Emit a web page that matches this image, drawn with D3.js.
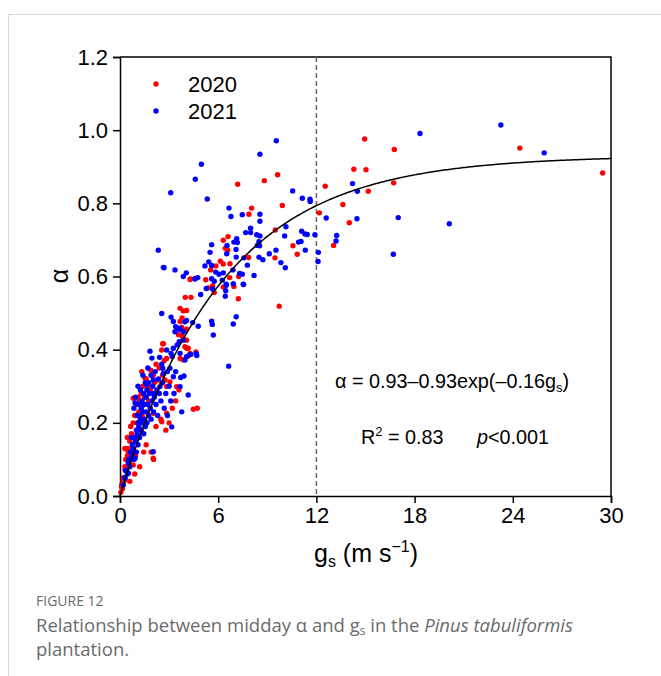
<!DOCTYPE html>
<html>
<head>
<meta charset="utf-8">
<style>
  body { margin: 0; background: #fff; }
</style>
</head>
<body>
<div id="viz"></div>
<script src="https://d3js.org/d3.v7.min.js"></script>
<script>
  // [gs, alpha]
  const red2020 = [
    [24.43,0.951],[29.49,0.883],[14.95,0.976],[16.76,0.947],[14.29,0.893],[15.03,0.892],[15.17,0.833],
    [16.72,0.856],[12.54,0.847],[13.62,0.797],[12.18,0.774],[14.01,0.747],[13.05,0.685],
    [7.19,0.852],[8.82,0.862],[9.63,0.878],[9.92,0.794],[8.04,0.787],[7.88,0.770],[9.49,0.727],
    [10.57,0.684],[10.83,0.661],[6.6,0.709],[6.31,0.699],[6.43,0.677],[6.58,0.672],[9.47,0.651],
    [7.86,0.652],[4.3,0.593],[5.54,0.618],[5.86,0.629],[6.13,0.642],[6.31,0.634],[6.72,0.635],
    [6.7,0.597],[7.25,0.6],[5.24,0.591],[5.66,0.574],[6.31,0.571],[6.96,0.573],[3.99,0.543],
    [4.34,0.543],[7.23,0.539],[5.39,0.569],[5.76,0.556],[9.73,0.519],
    [4.28,0.592],[4.58,0.595],[3.67,0.513],[3.87,0.506],[4.07,0.507],[3.79,0.487],[3.67,0.477],
    [3.77,0.461],[4.07,0.456],[4.64,0.394],[4.17,0.383],[2.55,0.399],[2.61,0.416],[3.91,0.428],
    [4.07,0.404],[3.97,0.408],[3.58,0.441],[3.8,0.437],[4.07,0.426],[4.17,0.404],
    [2.65,0.416],[2.85,0.376],[3.67,0.376],[3.87,0.372],[4.28,0.39],
    [1.33,0.34],[1.53,0.322],[1.88,0.344],[2.03,0.331],[2.28,0.317],[2.55,0.308],[2.85,0.299],
    [2.75,0.317],[3.05,0.312],[3.46,0.299],[4.48,0.237],[4.72,0.24],
    [0.81,0.267],[1.42,0.249],[2.03,0.226],[2.55,0.203],[2.85,0.226],[2.03,0.103],[0.51,0.121],
    [0.81,0.085],[0.31,0.071],[0.2,0.044],[0.1,0.025],
    [0.05,0.01],[0.1,0.03],[0.15,0.02],[0.2,0.05],[0.25,0.04],[0.3,0.08],[0.4,0.07],[0.45,0.11],
    [0.5,0.13],[0.55,0.09],[0.6,0.15],[0.7,0.17],[0.75,0.12],[0.8,0.2],[0.85,0.16],[0.9,0.22],
    [1.0,0.25],[1.05,0.2],[1.1,0.27],[1.2,0.26],[1.3,0.28],[1.4,0.3],[1.5,0.27],[1.6,0.32],
    [1.7,0.3],[1.85,0.29],[2.0,0.33],[2.1,0.31],[2.2,0.36],[2.4,0.35],[2.6,0.33],[2.7,0.37],
    [2.2,0.19],[2.5,0.21],[2.8,0.18],[3.0,0.2],[3.2,0.24],[1.9,0.12],[1.6,0.14],[1.2,0.08],
    [0.9,0.06],[0.6,0.04],[2.05,0.1],[3.4,0.26],[3.6,0.29],[0.45,0.16],[0.3,0.13],
    [0.35,0.1],[0.65,0.19],[1.15,0.23],[1.35,0.22],[1.75,0.26],[0.95,0.11],[1.45,0.12]
  ];

  const blue2021 = [
    [23.27,1.014],[25.92,0.938],[18.33,0.991],[14.21,0.854],[14.5,0.833],[12.6,0.76],[14.48,0.758],
    [17.0,0.761],[20.12,0.744],[13.24,0.712],[13.2,0.697],[12.12,0.666],[12.1,0.641],[16.7,0.661],
    [11.91,0.714],[11.14,0.814],[11.61,0.811],[11.62,0.805],[11.1,0.724],[11.3,0.716],[11.44,0.715],
    [11.06,0.696],[11.32,0.672],
    [9.55,0.971],[8.55,0.934],[4.97,0.907],[4.6,0.866],[10.55,0.834],[5.33,0.812],[3.1,0.829],
    [6.66,0.787],[7.47,0.769],[8.55,0.77],[6.78,0.764],[8.55,0.751],[7.98,0.732],[7.98,0.72],
    [7.68,0.72],[8.35,0.714],[8.55,0.711],[10.14,0.736],[10.06,0.711],[10.91,0.694],[8.49,0.695],
    [8.39,0.685],[8.53,0.684],[9.53,0.672],[9.12,0.662],[9.83,0.638],[10.1,0.624],[8.49,0.653],
    [8.73,0.646],[7.13,0.703],[6.96,0.694],[7.17,0.693],[5.6,0.687],[6.54,0.685],[7.09,0.674],
    [5.5,0.666],[6.52,0.662],[7.1,0.653],[7.57,0.651],[7.78,0.631],[2.69,0.624],[3.36,0.618],
    [3.87,0.6],[4.05,0.61],[4.58,0.593],[4.75,0.597],[5.19,0.629],[5.42,0.64],[5.6,0.63],
    [6.05,0.606],[5.85,0.612],[6.31,0.61],[6.9,0.618],[7.31,0.608],[7.47,0.606],[5.6,0.594],
    [5.76,0.587],[6.25,0.59],[6.49,0.576],[6.92,0.58],[7.53,0.579],[8.19,0.603],[5.27,0.567],
    [5.66,0.566],[6.49,0.579],[6.46,0.561],[7.55,0.578],[4.93,0.551],[6.43,0.546],
    [2.34,0.672],[2.65,0.625],[2.55,0.499],[3.12,0.489],[4.07,0.48],[3.46,0.461],[3.36,0.449],
    [3.67,0.458],[3.87,0.449],[4.78,0.464],[5.6,0.478],[5.64,0.469],[7.1,0.49],[6.92,0.47],
    [6.64,0.355],[5.7,0.44],[4.66,0.389],[4.32,0.387],[3.5,0.413],[1.83,0.396],[1.95,0.377],
    [2.42,0.379],[2.85,0.399],[3.26,0.404],[3.12,0.39],[3.26,0.477],[3.4,0.463],[3.97,0.476],
    [4.44,0.474],[3.62,0.456],[3.62,0.422],[3.87,0.426],
    [3.19,0.381],[3.67,0.39],[3.97,0.372],[4.07,0.381],[4.69,0.384],
    [1.63,0.305],[2.03,0.317],[2.44,0.299],[2.61,0.349],[2.65,0.335],[3.05,0.349],[3.26,0.326],
    [3.71,0.324],[3.91,0.328],[3.67,0.299],
    [0.92,0.255],[4.17,0.276],[3.77,0.23],[3.16,0.189],[2.03,0.121],[0.92,0.103],[0.31,0.048],
    [0.51,0.062],
    [0.2,0.03],[0.3,0.05],[0.35,0.07],[0.45,0.06],[0.5,0.09],[0.55,0.1],[0.6,0.08],[0.65,0.12],
    [0.7,0.11],[0.75,0.14],[0.8,0.13],[0.85,0.1],[0.9,0.16],[0.95,0.15],[1.0,0.12],[1.0,0.18],
    [1.05,0.17],[1.1,0.14],[1.1,0.2],[1.15,0.19],[1.2,0.16],[1.2,0.22],[1.25,0.21],[1.3,0.18],
    [1.3,0.24],[1.35,0.2],[1.4,0.23],[1.45,0.17],[1.5,0.25],[1.5,0.21],[1.55,0.19],[1.6,0.23],
    [1.6,0.27],[1.65,0.2],[1.7,0.25],[1.75,0.22],[1.8,0.28],[1.85,0.24],[1.9,0.21],[1.95,0.26],
    [2.0,0.3],[2.05,0.23],[2.1,0.27],[2.2,0.25],[2.25,0.29],[2.3,0.22],[2.4,0.28],[2.5,0.26],
    [2.6,0.31],[2.7,0.24],[2.8,0.28],[2.9,0.22],[3.0,0.3],[3.1,0.26],[3.3,0.28],[0.85,0.24],
    [0.95,0.27],[1.1,0.3],[1.25,0.29],[1.4,0.33],[1.55,0.31],[1.7,0.35],[1.9,0.33],[2.15,0.34],
    [2.35,0.32],[2.55,0.36],[2.9,0.34],[3.4,0.34],
    [1.05,0.22],[1.35,0.26],[1.65,0.29],[1.15,0.25],[1.45,0.28],[1.75,0.31],[2.05,0.28],[0.7,0.16]
  ];

  const xTicks = [0, 6, 12, 18, 24, 30];
  const yTicks = [0, 0.2, 0.4, 0.6, 0.8, 1.0, 1.2];
  const fit = { a: 0.93, k: 0.16 };   // alpha = a - a*exp(-k*gs)
  const cutoff = 12;
  const years = ["2020", "2021"];
  const colors = ["#ff0000", "#0000ff"];

  const width = 661, height = 676;
  const m = { left: 120, right: 611, top: 57, bottom: 496 };
  const sans = "Arial, 'Liberation Sans', sans-serif";
  const capFont = "'Open Sans', Lato, sans-serif";

  const svg = d3.select("#viz").append("svg")
      .attr("width", width)
      .attr("height", height)
      .style("font-family", sans);

  // figure frame
  svg.append("path")
      .attr("d", `M8.5,${height} V14.5 H${width}`)
      .attr("fill", "none")
      .attr("stroke", "#d9d9d9");

  const x = d3.scaleLinear().domain([0, 30]).range([m.left, m.right]);
  const y = d3.scaleLinear().domain([0, 1.2]).range([m.bottom, m.top]);

  // axes
  svg.append("g")
      .attr("transform", `translate(0,${m.bottom})`)
      .call(d3.axisBottom(x).tickValues(xTicks).tickSize(7).tickPadding(4).tickFormat(d3.format("d")))
      .attr("font-family", sans).attr("font-size", 22)
      .call(g => g.selectAll("text").attr("font-size", 22).attr("fill", "#000"))
      .call(g => g.selectAll("line, path").attr("stroke", "#000").attr("stroke-width", 1.5));

  svg.append("g")
      .attr("transform", `translate(${m.left},0)`)
      .call(d3.axisLeft(y).tickValues(yTicks).tickSize(7).tickPadding(5).tickFormat(d3.format(".1f")))
      .attr("font-family", sans).attr("font-size", 22)
      .call(g => g.selectAll("text").attr("font-size", 22).attr("fill", "#000"))
      .call(g => g.selectAll("line, path").attr("stroke", "#000").attr("stroke-width", 1.5));

  // box top/right
  svg.append("path")
      .attr("d", `M${m.left},${m.top} H${m.right} V${m.bottom}`)
      .attr("fill", "none")
      .attr("stroke", "#000")
      .attr("stroke-width", 1.5);

  // dashed cutoff
  svg.append("line")
      .attr("x1", x(cutoff)).attr("x2", x(cutoff))
      .attr("y1", y(1.2)).attr("y2", y(0))
      .attr("stroke", "#666")
      .attr("stroke-width", 1.5)
      .attr("stroke-dasharray", "5,3");

  // points
  [red2020, blue2021].forEach((data, i) => {
    svg.append("g").selectAll("circle")
        .data(data)
      .enter().append("circle")
        .attr("cx", d => x(d[0]))
        .attr("cy", d => y(d[1]))
        .attr("r", 2.7)
        .attr("fill", colors[i]);
  });

  // fitted curve
  const curve = d3.range(0, 30.01, 0.1).map(g => [g, fit.a - fit.a * Math.exp(-fit.k * g)]);
  svg.append("path")
      .datum(curve)
      .attr("d", d3.line().x(d => x(d[0])).y(d => y(d[1])))
      .attr("fill", "none")
      .attr("stroke", "#000")
      .attr("stroke-width", 1.5);

  // legend
  years.forEach((yr, i) => {
    const ly = 84 + i * 27;
    svg.append("circle").attr("cx", 156).attr("cy", ly).attr("r", 2.7).attr("fill", colors[i]);
    svg.append("text").attr("x", 188).attr("y", ly + 8).style("font-size", "22px").text(yr);
  });

  // axis titles
  const xt = svg.append("text").attr("x", 366).attr("y", 562).attr("text-anchor", "middle").style("font-size", "25px");
  xt.append("tspan").text("g");
  xt.append("tspan").style("font-size", "16px").attr("dy", 5).text("s");
  xt.append("tspan").attr("dy", -5).text(" (m s");
  xt.append("tspan").style("font-size", "16px").attr("dy", -10).text("−1");
  xt.append("tspan").attr("dy", 10).text(")");

  svg.append("text")
      .attr("transform", "translate(68,276) rotate(-90)")
      .attr("text-anchor", "middle")
      .style("font-size", "25px")
      .text("α");

  // equation
  const eq = svg.append("text").attr("x", 335).attr("y", 388).style("font-size", "19.8px");
  eq.append("tspan").text("α = 0.93–0.93exp(–0.16g");
  eq.append("tspan").style("font-size", "13px").attr("dy", 4).text("s");
  eq.append("tspan").attr("dy", -4).text(")");

  const r2 = svg.append("text").attr("x", 361).attr("y", 444).style("font-size", "19.8px");
  r2.append("tspan").text("R");
  r2.append("tspan").style("font-size", "13px").attr("dy", -8).text("2");
  r2.append("tspan").attr("dy", 8).text(" = 0.83");
  svg.append("text").attr("x", 477).attr("y", 444).style("font-size", "19.8px")
      .style("font-style", "italic").text("p")
    .append("tspan").style("font-style", "normal").text("<0.001");

  // caption
  svg.append("text").attr("x", 36).attr("y", 606)
      .style("font-family", capFont).style("font-size", "14px").attr("fill", "#6b6b6b").text("FIGURE 12");
  const c1 = svg.append("text").attr("x", 36).attr("y", 632)
      .style("font-family", capFont).style("font-size", "18.5px").attr("fill", "#6b6b6b");
  c1.append("tspan").text("Relationship between midday α and g");
  c1.append("tspan").style("font-size", "12px").attr("dy", 3).text("s");
  c1.append("tspan").attr("dy", -3).text(" in the ");
  c1.append("tspan").style("font-style", "italic").text("Pinus tabuliformis");
  svg.append("text").attr("x", 36).attr("y", 656)
      .style("font-family", capFont).style("font-size", "18.5px").attr("fill", "#6b6b6b").text("plantation.");
</script>
</body>
</html>
